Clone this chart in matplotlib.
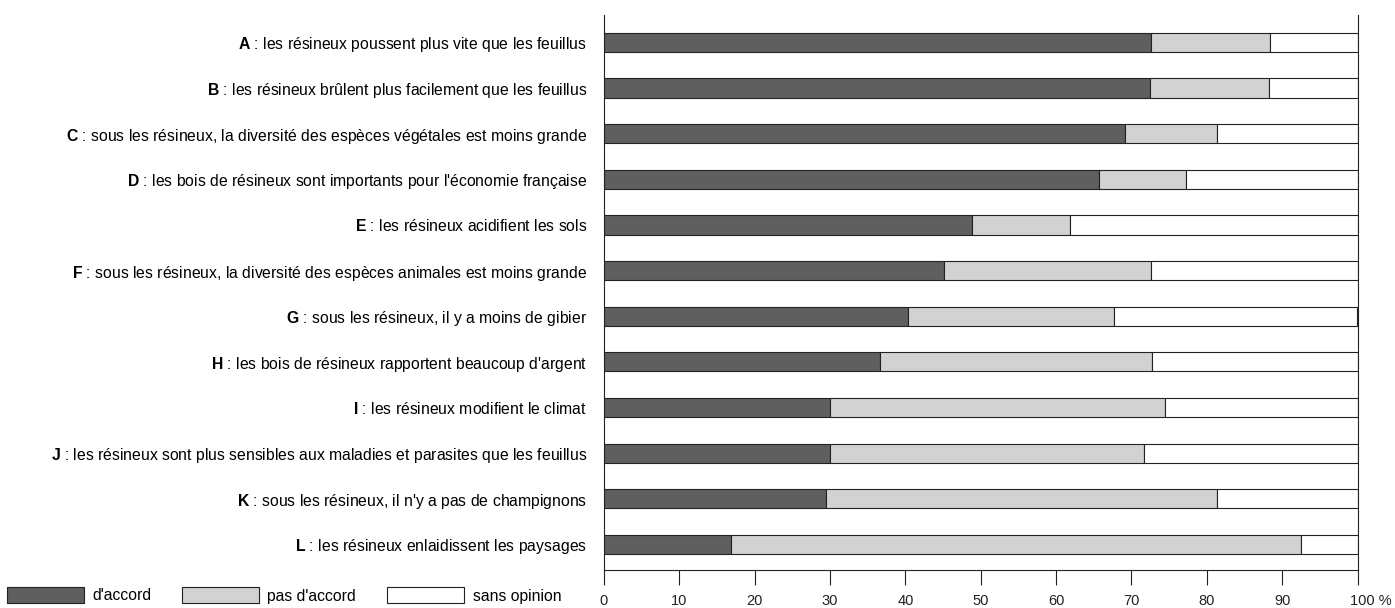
import matplotlib
matplotlib.use("Agg")
import matplotlib.pyplot as plt
from matplotlib.patches import Rectangle
import matplotlib.transforms as mtransforms
import numpy as np

plt.rcParams['font.family'] = ['Liberation Sans', 'DejaVu Sans']
plt.rcParams['mathtext.fontset'] = 'custom'
plt.rcParams['mathtext.rm'] = 'Liberation Sans'
plt.rcParams['mathtext.bf'] = 'Liberation Sans:bold'

letters = ["A", "B", "C", "D", "E", "F", "G", "H", "I", "J", "K", "L"]
statements = [
    "les résineux poussent plus vite que les feuillus",
    "les résineux brûlent plus facilement que les feuillus",
    "sous les résineux, la diversité des espèces végétales est moins grande",
    "les bois de résineux sont importants pour l'économie française",
    "les résineux acidifient les sols",
    "sous les résineux, la diversité des espèces animales est moins grande",
    "sous les résineux, il y a moins de gibier",
    "les bois de résineux rapportent beaucoup d'argent",
    "les résineux modifient le climat",
    "les résineux sont plus sensibles aux maladies et parasites que les feuillus",
    "sous les résineux, il n'y a pas de champignons",
    "les résineux enlaidissent les paysages",
]
d_accord = [72.6, 72.5, 69.1, 65.7, 48.9, 45.1, 40.3, 36.6, 30.0, 30.0, 29.4, 16.9]
pas_d_accord = [15.8, 15.8, 12.3, 11.6, 13.0, 27.5, 27.4, 36.1, 44.4, 41.7, 52.0, 75.6]
sans_opinion = [100 - a - b for a, b in zip(d_accord, pas_d_accord)]
series_names = ["d'accord", "pas d'accord", "sans opinion"]
colors = ["#5f5f5f", "#d2d2d2", "#ffffff"]
xticks = [0, 10, 20, 30, 40, 50, 60, 70, 80, 90, 100]
xticklabels = ["0", "10", "20", "30", "40", "50", "60", "70", "80", "90", "100 %"]

W, H = 1395, 608
fig = plt.figure(figsize=(13.95, 6.08), dpi=100)
ax = fig.add_axes([604/W, (H-570)/H, (1357.5-604)/W, (570-15)/H])

y = np.arange(len(letters))
left = np.zeros(len(letters))
for vals, c in zip([d_accord, pas_d_accord, sans_opinion], colors):
    ax.barh(y, vals, left=left, height=0.42, color=c, edgecolor="#222222", linewidth=0.8)
    left += np.array(vals)

ax.set_xlim(0, 100)
ax.set_ylim(11.56, -0.6)
ax.set_xticks(xticks)
ax.set_xticklabels(xticklabels, fontsize=10.5)
ax.set_yticks(y)
ax.set_yticklabels([rf"$\mathbf{{{l}}}$ : {s}" for l, s in zip(letters, statements)], fontsize=11.3)
ax.tick_params(axis='y', length=0, pad=12)
ax.tick_params(axis='x', direction='out', length=11, width=0.8, pad=6, colors="#222222")
ax.spines['top'].set_visible(False)
for s in ['left', 'right', 'bottom']:
    ax.spines[s].set_linewidth(0.8)
    ax.spines[s].set_color("#222222")

# shift the last tick label ("100 %") so that "100" sits under its tick
last = ax.get_xticklabels()[-1]
last.set_transform(last.get_transform() + mtransforms.ScaledTranslation(13/100, 0, fig.dpi_scale_trans))

# legend drawn in figure pixel coordinates
for (x0, xt, name, c) in zip([7, 182, 387], [92, 267, 473], series_names, colors):
    fig.add_artist(Rectangle((x0/W, (H-603)/H), 77/W, 16/H, transform=fig.transFigure,
                             facecolor=c, edgecolor="#222222", linewidth=0.8))
    fig.text(xt/W, (H-596)/H, name, fontsize=11.3, va='center', ha='left')

fig.savefig("out.png", dpi=100)
